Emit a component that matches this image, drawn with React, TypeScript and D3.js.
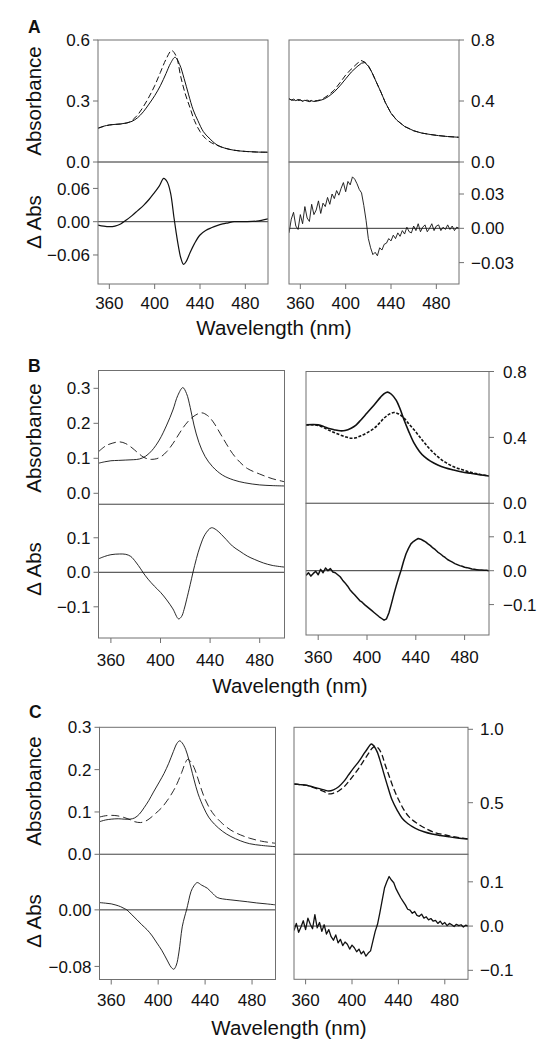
import React from 'react';
import * as d3 from 'd3';

// ---------------- shared categories ----------------
const X_TICKS = [360, 400, 440, 480];
const NM_2 = [
  350, 352, 354, 356, 358, 360, 362, 364, 366, 368,
  370, 372, 374, 376, 378, 380, 382, 384, 386, 388,
  390, 392, 394, 396, 398, 400, 402, 404, 406, 408,
  410, 412, 414, 416, 418, 420, 422, 424, 426, 428,
  430, 432, 434, 436, 438, 440, 442, 444, 446, 448,
  450, 452, 454, 456, 458, 460, 462, 464, 466, 468,
  470, 472, 474, 476, 478, 480, 482, 484, 486, 488,
  490, 492, 494, 496, 498, 500,
];

// ---------------- Panel A ----------------
const A_LT_SOLID_NM = [350,355,360,365,370,375,380,385,390,395,400,405,410,414,418,422,426,430,434,438,443,448,455,462,470,480,490,500];
const A_LT_SOLID_ABS = [0.166,0.176,0.182,0.185,0.187,0.192,0.200,0.218,0.247,0.285,0.326,0.375,0.435,0.485,0.515,0.48,0.41,0.33,0.256,0.205,0.149,0.118,0.084,0.068,0.058,0.052,0.049,0.048];
const A_LT_DASH_NM = [350,360,370,378,385,390,395,400,405,410,415,419,423,427,431,435,440,445,450,455,462,470,480,490,500];
const A_LT_DASH_ABS = [0.166,0.182,0.187,0.197,0.232,0.272,0.32,0.375,0.44,0.505,0.548,0.52,0.42,0.335,0.27,0.205,0.15,0.115,0.095,0.082,0.068,0.058,0.052,0.049,0.048];
const A_LB_NM = [350,355,360,365,370,375,380,385,390,395,400,404,408,411,414,417,419,421,423,425.5,428,431,435,440,445,450,455,460,465,470,480,490,500];
const A_LB_DABS = [-0.006,-0.008,-0.009,-0.008,-0.004,0.003,0.011,0.020,0.029,0.040,0.053,0.064,0.078,0.072,0.052,0.008,-0.020,-0.045,-0.065,-0.077,-0.071,-0.057,-0.040,-0.024,-0.016,-0.011,-0.007,-0.004,-0.002,0.000,0.000,0.001,0.005];
const A_RT_SOLID_NM = [350,352,354,356,358,360,362,364,366,368,370,372,375,378,381,385,390,395,400,405,410,414,417,420,423,427,431,435,440,445,452,460,467,475,482,490,500];
const A_RT_SOLID_ABS = [0.418,0.405,0.412,0.402,0.41,0.407,0.398,0.405,0.40,0.396,0.401,0.397,0.40,0.405,0.413,0.43,0.46,0.50,0.545,0.59,0.625,0.648,0.652,0.628,0.59,0.525,0.46,0.39,0.32,0.275,0.233,0.205,0.19,0.18,0.173,0.167,0.162];
const A_RT_DASH_NM = [350,352,354,356,358,360,362,364,366,368,370,372,375,378,381,385,390,395,400,405,410,413.5,417,420,423,427,431,435,440,445,452,460,467,475,482,490,500];
const A_RT_DASH_ABS = [0.412,0.408,0.404,0.41,0.403,0.406,0.40,0.402,0.406,0.399,0.404,0.40,0.403,0.408,0.42,0.44,0.472,0.52,0.57,0.61,0.645,0.666,0.655,0.632,0.592,0.525,0.46,0.39,0.32,0.275,0.233,0.205,0.19,0.18,0.173,0.167,0.162];
const A_RB_DABS = [
  -0.004,0.008,0.014,0.002,-0.001,0.012,0.004,0.019,0.009,0.006,
  0.021,0.012,0.016,0.024,0.013,0.022,0.019,0.027,0.021,0.030,
  0.026,0.033,0.029,0.035,0.040,0.032,0.041,0.038,0.045,0.043,
  0.039,0.034,0.031,0.020,0.007,-0.009,-0.017,-0.023,-0.021,-0.024,
  -0.017,-0.019,-0.014,-0.013,-0.009,-0.011,-0.006,-0.009,-0.004,-0.007,
  -0.002,-0.005,0.001,-0.003,-0.004,0.002,-0.002,0.004,-0.003,0.001,
  0.003,-0.003,0.000,0.004,-0.002,0.002,0.003,-0.002,0.001,-0.001,
  0.003,-0.001,0.002,-0.002,0.001,0.000,
];
const A_LT_TICKS = [0, 0.3, 0.6];
const A_LB_TICKS = [-0.06, 0, 0.06];
const A_RT_TICKS = [0, 0.4, 0.8];
const A_RB_TICKS = [-0.03, 0, 0.03];

// ---------------- Panel B ----------------
const B_LT_SOLID_NM = [350,355,360,366,372,378,383,388,393,399,405,410,414,418,421,424,427,431,436,442,450,459,468,480,490,500];
const B_LT_SOLID_ABS = [0.086,0.090,0.093,0.094,0.095,0.096,0.098,0.106,0.122,0.152,0.195,0.238,0.280,0.302,0.285,0.245,0.195,0.145,0.105,0.076,0.052,0.038,0.030,0.024,0.022,0.021];
const B_LT_DASH_NM = [350,356,361,367,372,377,382,386,390,393,397,401,405,410,415,420,426,433,438,442.5,448,453,458,464,470,480,490,500];
const B_LT_DASH_ABS = [0.119,0.136,0.143,0.147,0.142,0.130,0.115,0.104,0.098,0.097,0.099,0.106,0.119,0.142,0.170,0.196,0.218,0.230,0.222,0.204,0.172,0.142,0.114,0.089,0.071,0.055,0.042,0.033];
const B_LB_NM = [350,355,360,367,372,376,380,384,386,390,395,400,405,410,414.6,417,419,421,424,426.2,429,432,436,441,445,449,453,458,464,470,476,483,490,500];
const B_LB_DABS = [0.039,0.046,0.051,0.053,0.052,0.046,0.030,0.010,-0.001,-0.020,-0.040,-0.058,-0.080,-0.106,-0.135,-0.128,-0.108,-0.080,-0.035,0.000,0.040,0.076,0.110,0.129,0.123,0.110,0.095,0.076,0.061,0.047,0.037,0.027,0.020,0.015];
const B_RT_SOLID_NM = [350,356,360,364,368,373,378,382,387,391,395,400,406,411,414,417,420,424,427,430.4,434,438.6,443,447,452,458,464,471,478,485,492,500];
const B_RT_SOLID_ABS = [0.476,0.478,0.476,0.468,0.456,0.447,0.440,0.442,0.456,0.475,0.506,0.548,0.598,0.643,0.665,0.675,0.662,0.625,0.575,0.506,0.44,0.365,0.315,0.283,0.256,0.233,0.216,0.202,0.19,0.182,0.174,0.166];
const B_RT_DASH_NM = [350,356,360,364,368,373,378,383,387,391,395,400,406,410,414,418,422,426,430.4,434,438.6,443,447,452,458,464,471,478,485,492,500];
const B_RT_DASH_ABS = [0.476,0.476,0.472,0.462,0.446,0.430,0.415,0.402,0.395,0.398,0.41,0.428,0.456,0.485,0.517,0.540,0.551,0.542,0.517,0.485,0.446,0.405,0.368,0.325,0.283,0.250,0.222,0.204,0.188,0.176,0.166];
const B_RB_DABS = [
  -0.014,-0.006,-0.016,-0.008,-0.002,-0.012,0.004,-0.006,0.008,0.000,
  0.006,-0.004,-0.006,-0.012,-0.018,-0.028,-0.036,-0.045,-0.056,-0.064,
  -0.072,-0.080,-0.088,-0.093,-0.100,-0.106,-0.112,-0.118,-0.124,-0.130,
  -0.136,-0.141,-0.146,-0.142,-0.124,-0.098,-0.070,-0.044,-0.020,0.002,
  0.028,0.050,0.066,0.079,0.086,0.091,0.095,0.093,0.089,0.085,
  0.079,0.074,0.067,0.062,0.055,0.050,0.044,0.039,0.033,0.029,
  0.025,0.021,0.018,0.015,0.013,0.010,0.009,0.007,0.005,0.004,
  0.003,0.002,0.002,0.001,0.001,0.000,
];
const B_LT_TICKS = [0, 0.1, 0.2, 0.3];
const B_LB_TICKS = [-0.1, 0, 0.1];
const B_RT_TICKS = [0, 0.4, 0.8];
const B_RB_TICKS = [-0.1, 0, 0.1];

// ---------------- Panel C ----------------
const C_LT_SOLID_NM = [350,355,360,366,371,376,380,384,388,392,396,401,405,409,413,416,418.3,420.5,423.4,426,428,430.6,434,439,443,448,455,462,470,478,488,500];
const C_LT_SOLID_ABS = [0.077,0.081,0.083,0.084,0.083,0.083,0.086,0.095,0.110,0.127,0.147,0.171,0.191,0.215,0.243,0.262,0.268,0.263,0.248,0.225,0.204,0.176,0.143,0.109,0.088,0.071,0.054,0.042,0.032,0.025,0.021,0.018];
const C_LT_DASH_NM = [350,355,360,365,371,376,380,385,389,393,398,403,408,413,416.3,420,423,425,427.5,430.6,434,437,440,444,448,455,462,470,478,488,500];
const C_LT_DASH_ABS = [0.088,0.091,0.092,0.091,0.087,0.082,0.077,0.075,0.078,0.085,0.097,0.110,0.128,0.150,0.168,0.193,0.215,0.224,0.220,0.205,0.178,0.152,0.130,0.108,0.092,0.072,0.057,0.046,0.038,0.031,0.026];
const C_LB_NM = [350,355,360,364,368,371,373.3,377,381.9,386,390.5,395,399,403,407.6,411,413.3,415.5,417.6,419,420.5,422.5,424.2,426,428,430.5,433.3,437,441.9,446,450.4,455,462,469,476,484,492,500];
const C_LB_DABS = [0.0103,0.0095,0.0085,0.0068,0.0045,0.002,0.000,-0.006,-0.014,-0.021,-0.028,-0.037,-0.047,-0.057,-0.071,-0.081,-0.084,-0.078,-0.061,-0.043,-0.024,-0.010,0.000,0.013,0.026,0.034,0.0386,0.035,0.0306,0.024,0.0175,0.0155,0.0141,0.0128,0.0115,0.0098,0.0085,0.0071];
const C_RT_SOLID_NM = [350,355,360,365,371,376,380,384,388.5,393,397,401,405.8,410,413,416.7,419,421.6,424.5,427.4,431,434.6,439,443.2,448,454.7,462,469,476,483.5,491,500];
const C_RT_SOLID_ABS = [0.627,0.623,0.62,0.61,0.598,0.587,0.58,0.588,0.609,0.645,0.689,0.732,0.78,0.83,0.864,0.9,0.885,0.848,0.78,0.70,0.605,0.518,0.448,0.394,0.358,0.325,0.302,0.287,0.277,0.268,0.26,0.253];
const C_RT_DASH_NM = [350,355,360,365,371,376,380,384,388.5,393,397,401,405.8,410,414.4,417,420.2,423,425.9,428.5,431.7,436,440.3,444.5,449,456,463.4,471,480.6,490,500];
const C_RT_DASH_ABS = [0.627,0.623,0.62,0.608,0.592,0.575,0.56,0.565,0.58,0.607,0.643,0.683,0.734,0.785,0.837,0.868,0.886,0.868,0.825,0.76,0.689,0.594,0.518,0.455,0.405,0.36,0.325,0.298,0.28,0.265,0.253];
const C_RB_DABS = [
  -0.010,0.006,-0.014,-0.002,0.012,-0.008,0.018,0.004,-0.006,0.026,
  -0.004,0.008,-0.012,0.003,-0.018,-0.008,-0.024,-0.032,-0.020,-0.038,
  -0.030,-0.044,-0.036,-0.041,-0.052,-0.043,-0.049,-0.058,-0.052,-0.063,
  -0.057,-0.068,-0.061,-0.056,-0.034,-0.012,0.004,0.030,0.058,0.086,
  0.100,0.112,0.104,0.098,0.084,0.074,0.064,0.056,0.048,0.038,
  0.036,0.029,0.033,0.024,0.022,0.027,0.018,0.021,0.014,0.017,
  0.011,0.013,0.006,0.011,0.004,0.008,0.001,0.006,0.003,-0.001,
  0.004,0.001,0.003,-0.002,0.002,0.000,
];
const C_LT_TICKS = [0, 0.1, 0.2, 0.3];
const C_LB_TICKS = [-0.08, 0];
const C_RT_TICKS = [0.5, 1.0];
const C_RB_TICKS = [-0.1, 0, 0.1];

// ---------------- drawing ----------------
type Series = { nm: number[]; v: number[]; dash?: string; width?: number; noisy?: boolean };
type Sub = {
  id: string;
  x0: number; x1: number; y0: number; y1: number;
  lo: number; hi: number;
  ticks: number[]; fmt: string;
  side: 'left' | 'right';
  labelGap?: number;
  series: Series[];
  zero?: boolean;
  xLabelY?: number;
};

const FONT = "'Liberation Sans', Arial, Helvetica, sans-serif";
const FRAME = '#707070';
const INK = '#111';

function SubPlot({ s }: { s: Sub }) {
  const x = d3.scaleLinear().domain([350, 500]).range([s.x0, s.x1]);
  const y = d3.scaleLinear().domain([s.lo, s.hi]).range([s.y1, s.y0]);
  const fmt = d3.format(s.fmt);
  const gap = s.labelGap ?? 12;
  return (
    <g>
      <defs>
        <clipPath id={'clip-' + s.id}>
          <rect x={s.x0} y={s.y0} width={s.x1 - s.x0} height={s.y1 - s.y0} />
        </clipPath>
      </defs>
      {s.zero && (
        <line x1={s.x0} x2={s.x1} y1={y(0)} y2={y(0)} stroke="#333" strokeWidth={1} />
      )}
      <g clipPath={`url(#clip-${s.id})`}>
        {s.series.map((ser, i) => {
          const pts: [number, number][] = ser.nm.map((n, k) => [n, ser.v[k]]);
          const line = d3
            .line<[number, number]>()
            .x((d) => x(d[0]))
            .y((d) => y(d[1]))
            .curve(ser.noisy ? d3.curveLinear : d3.curveCatmullRom.alpha(0.5));
          return (
            <path
              key={i}
              d={line(pts) || ''}
              fill="none"
              stroke={INK}
              strokeWidth={ser.width ?? 1}
              strokeDasharray={ser.dash}
              strokeLinejoin="round"
            />
          );
        })}
      </g>
      <rect x={s.x0} y={s.y0} width={s.x1 - s.x0} height={s.y1 - s.y0} fill="none" stroke={FRAME} strokeWidth={1} />
      {s.ticks.map((t) => {
        const ty = y(t);
        const outer = s.side === 'left' ? s.x0 - 5 : s.x1 + 5;
        const base = s.side === 'left' ? s.x0 : s.x1;
        return (
          <g key={'t' + t}>
            <line x1={base} x2={outer} y1={ty} y2={ty} stroke={FRAME} strokeWidth={1} />
            <text
              x={s.side === 'left' ? s.x0 - 8 : s.x1 + gap}
              y={ty}
              dy="0.36em"
              textAnchor={s.side === 'left' ? 'end' : 'start'}
              fontFamily={FONT}
              fontSize={17}
              fill={INK}
            >
              {fmt(t)}
            </text>
          </g>
        );
      })}
      {s.xLabelY !== undefined &&
        X_TICKS.map((t) => (
          <g key={'x' + t}>
            <line x1={x(t)} x2={x(t)} y1={s.y1} y2={s.y1 + 5} stroke={FRAME} strokeWidth={1} />
            <text x={x(t)} y={s.xLabelY} textAnchor="middle" fontFamily={FONT} fontSize={17} fill={INK}>
              {t}
            </text>
          </g>
        ))}
    </g>
  );
}

const DASH_LONG = '8,4';
const DASH_MID = '6,3';
const DASH_FINE = '3,1.6';

const SUBS: Sub[] = [
  // Panel A
  { id: 'alt', x0: 98, x1: 268, y0: 40, y1: 162, lo: 0, hi: 0.6, ticks: A_LT_TICKS, fmt: '.1f', side: 'left',
    series: [
      { nm: A_LT_SOLID_NM, v: A_LT_SOLID_ABS },
      { nm: A_LT_DASH_NM, v: A_LT_DASH_ABS, dash: DASH_MID },
    ] },
  { id: 'alb', x0: 98, x1: 268, y0: 162, y1: 284, lo: -0.1123, hi: 0.1076, ticks: A_LB_TICKS, fmt: '.2f', side: 'left',
    zero: true, xLabelY: 309,
    series: [{ nm: A_LB_NM, v: A_LB_DABS, width: 1.2 }] },
  { id: 'art', x0: 289, x1: 459, y0: 40, y1: 162, lo: 0, hi: 0.8, ticks: A_RT_TICKS, fmt: '.1f', side: 'right',
    series: [
      { nm: A_RT_SOLID_NM, v: A_RT_SOLID_ABS, noisy: true },
      { nm: A_RT_DASH_NM, v: A_RT_DASH_ABS, dash: DASH_MID, noisy: true },
    ] },
  { id: 'arb', x0: 289, x1: 459, y0: 162, y1: 284, lo: -0.0487, hi: 0.058, ticks: A_RB_TICKS, fmt: '.2f', side: 'right',
    zero: true, xLabelY: 309,
    series: [{ nm: NM_2, v: A_RB_DABS, noisy: true, width: 0.9 }] },
  // Panel B
  { id: 'blt', x0: 98.5, x1: 284.5, y0: 370.5, y1: 504.3, lo: -0.0314, hi: 0.3509, ticks: B_LT_TICKS, fmt: '.1f', side: 'left',
    series: [
      { nm: B_LT_SOLID_NM, v: B_LT_SOLID_ABS, width: 0.9 },
      { nm: B_LT_DASH_NM, v: B_LT_DASH_ABS, dash: DASH_LONG, width: 0.9 },
    ] },
  { id: 'blb', x0: 98.5, x1: 284.5, y0: 504.3, y1: 638, lo: -0.1904, hi: 0.197, ticks: B_LB_TICKS, fmt: '.1f', side: 'left',
    zero: true, xLabelY: 666,
    series: [{ nm: B_LB_NM, v: B_LB_DABS, width: 0.9 }] },
  { id: 'brt', x0: 306, x1: 489, y0: 371.5, y1: 503.3, lo: 0, hi: 0.8, ticks: B_RT_TICKS, fmt: '.1f', side: 'right', labelGap: 14,
    series: [
      { nm: B_RT_SOLID_NM, v: B_RT_SOLID_ABS, width: 1.6 },
      { nm: B_RT_DASH_NM, v: B_RT_DASH_ABS, dash: DASH_FINE, width: 1.6 },
    ] },
  { id: 'brb', x0: 306, x1: 489, y0: 503.3, y1: 635, lo: -0.1897, hi: 0.1988, ticks: B_RB_TICKS, fmt: '.1f', side: 'right', labelGap: 14,
    zero: true, xLabelY: 663,
    series: [{ nm: NM_2, v: B_RB_DABS, noisy: true, width: 1.5 }] },
  // Panel C
  { id: 'clt', x0: 99.5, x1: 275.5, y0: 727.3, y1: 854.3, lo: 0, hi: 0.3, ticks: C_LT_TICKS, fmt: '.1f', side: 'left',
    series: [
      { nm: C_LT_SOLID_NM, v: C_LT_SOLID_ABS, width: 0.9 },
      { nm: C_LT_DASH_NM, v: C_LT_DASH_ABS, dash: DASH_LONG, width: 0.9 },
    ] },
  { id: 'clb', x0: 99.5, x1: 275.5, y0: 854.3, y1: 979.5, lo: -0.0985, hi: 0.0786, ticks: C_LB_TICKS, fmt: '.2f', side: 'left',
    zero: true, xLabelY: 1006,
    series: [{ nm: C_LB_NM, v: C_LB_DABS, width: 0.9 }] },
  { id: 'crt', x0: 294, x1: 468, y0: 727.3, y1: 854.3, lo: 0.1485, hi: 1.0136, ticks: C_RT_TICKS, fmt: '.1f', side: 'right',
    series: [
      { nm: C_RT_SOLID_NM, v: C_RT_SOLID_ABS, width: 1.4 },
      { nm: C_RT_DASH_NM, v: C_RT_DASH_ABS, dash: DASH_MID, width: 1.3 },
    ] },
  { id: 'crb', x0: 294, x1: 468, y0: 854.3, y1: 979.3, lo: -0.1203, hi: 0.1622, ticks: C_RB_TICKS, fmt: '.1f', side: 'right',
    zero: true, xLabelY: 1006,
    series: [{ nm: NM_2, v: C_RB_DABS, noisy: true, width: 1.3 }] },
];

const PANEL_LETTERS = ['A', 'B', 'C'];
const LETTER_POS: [number, number][] = [[28, 33], [28, 372], [29, 718]];
const ABS_TITLE_Y = [101, 438, 791];
const DABS_TITLE_Y = [222, 569, 921];
const XTITLE_POS: [number, number][] = [[274, 335], [290, 693], [289, 1035]];

export default function App() {
  return (
    <svg
      width={546}
      height={1050}
      viewBox="0 0 546 1050"
      style={{ position: 'absolute', left: 0, top: 0, background: '#fff' }}
    >
      <rect x={0} y={0} width={546} height={1050} fill="#fff" />
      {SUBS.map((s) => (
        <SubPlot key={s.id} s={s} />
      ))}
      {PANEL_LETTERS.map((L, i) => (
        <g key={L}>
          <text x={LETTER_POS[i][0]} y={LETTER_POS[i][1]} fontFamily={FONT} fontWeight="bold" fontSize={17.5} fill={INK}>
            {L}
          </text>
          <text
            transform={`translate(40.5,${ABS_TITLE_Y[i]}) rotate(-90)`}
            textAnchor="middle"
            fontFamily={FONT}
            fontSize={20.5}
            fill={INK}
          >
            Absorbance
          </text>
          <text
            transform={`translate(40.5,${DABS_TITLE_Y[i]}) rotate(-90)`}
            textAnchor="middle"
            fontFamily={FONT}
            fontSize={20.5}
            fill={INK}
          >
            Δ Abs
          </text>
          <text
            x={XTITLE_POS[i][0]}
            y={XTITLE_POS[i][1]}
            textAnchor="middle"
            fontFamily={FONT}
            fontSize={20.5}
            fill={INK}
          >
            Wavelength (nm)
          </text>
        </g>
      ))}
    </svg>
  );
}
